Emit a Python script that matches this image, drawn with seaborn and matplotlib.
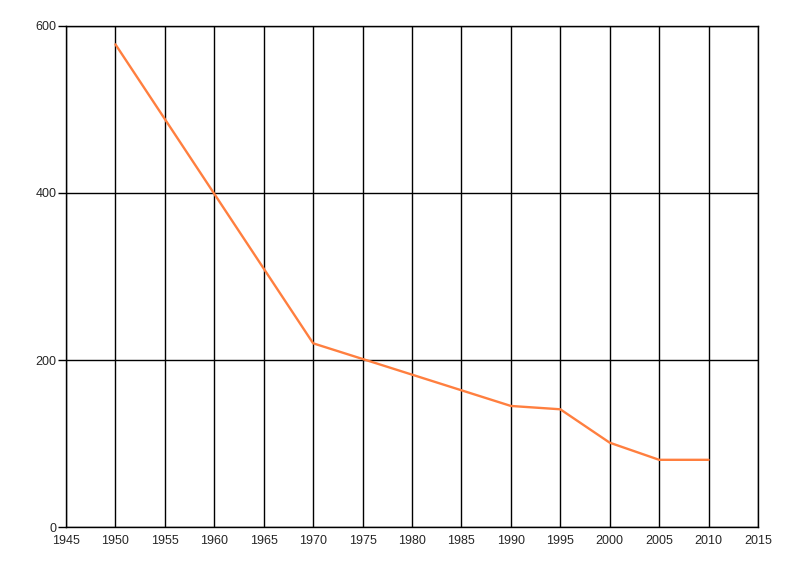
import matplotlib
matplotlib.use("Agg")
import matplotlib.pyplot as plt
import seaborn as sns
import pandas as pd

years = [1950, 1970, 1990, 1995, 2000, 2005, 2010]
values = [578, 220, 145, 141, 101, 80.5, 80.5]
x_ticks = list(range(1945, 2016, 5))
y_ticks = [0, 200, 400, 600]

sns.set_style("white")
plt.rcParams['font.family'] = ['Liberation Sans', 'DejaVu Sans']

df = pd.DataFrame({"year": years, "value": values})

fig = plt.figure(figsize=(8, 5.76), dpi=100)
ax = fig.add_axes([0.0825, 0.085, 0.865, 0.8699])

sns.lineplot(data=df, x="year", y="value", ax=ax, color="#FF7F3F", linewidth=1.7)

ax.set_xlim(1945, 2015)
ax.set_ylim(0, 600)
ax.set_xticks(x_ticks)
ax.set_yticks(y_ticks)
ax.set_xticklabels([str(t) for t in x_ticks])
ax.set_yticklabels([str(t) for t in y_ticks])
ax.grid(True, color="black", linewidth=1.0)
ax.set_axisbelow(True)
for s in ax.spines.values():
    s.set_color("black")
    s.set_linewidth(1.0)
ax.tick_params(axis="y", left=True, direction="out", length=6, width=1,
               color="black", labelsize=9, pad=1)
ax.tick_params(axis="x", bottom=False, length=0, labelsize=9, pad=6)
ax.set_xlabel("")
ax.set_ylabel("")

fig.savefig("out.png", dpi=100)
